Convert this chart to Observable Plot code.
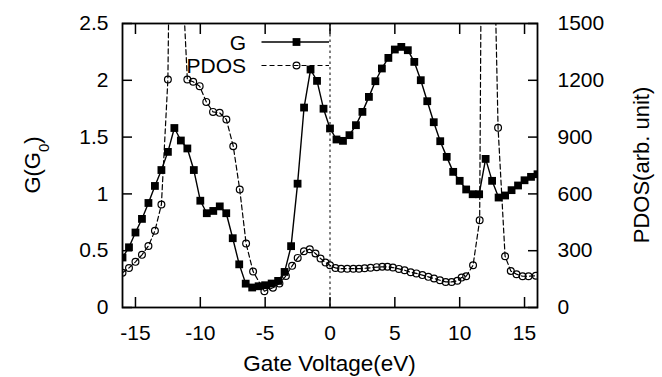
<!DOCTYPE html>
<html><head><meta charset="utf-8">
<script src="https://cdn.jsdelivr.net/npm/d3@7"></script>
<script src="https://cdn.jsdelivr.net/npm/@observablehq/plot@0.6"></script>
<style>
html,body{margin:0;padding:0;background:#fff;}
#chart{width:662px;height:377px;overflow:hidden;}
</style>
</head><body><div id="chart"></div>
<script>
// ---- data ----
const gVoltage = [-16,-15.5,-15,-14.5,-14,-13.5,-13,-12.5,-12,-11.5,-11,-10.5,-10,-9.5,-9,-8.5,-8,-7.5,-7,-6.5,-6,-5.5,-5,-4.5,-4,-3.5,-3,-2.5,-2,-1.5,-1,-0.5,0,0.5,1,1.5,2,2.5,3,3.5,4,4.5,5,5.5,6,6.5,7,7.5,8,8.5,9,9.5,10,10.5,11,11.5,12,12.5,13,13.5,14,14.5,15,15.5,16];
const gValues = [0.44,0.53,0.66,0.78,0.92,1.07,1.21,1.37,1.58,1.47,1.40,1.21,0.94,0.83,0.85,0.89,0.83,0.61,0.38,0.21,0.176,0.187,0.196,0.211,0.234,0.313,0.54,1.09,1.76,2.095,1.995,1.75,1.576,1.479,1.467,1.517,1.605,1.722,1.854,1.992,2.104,2.197,2.271,2.294,2.265,2.162,2.001,1.816,1.631,1.464,1.326,1.194,1.115,1.039,0.997,0.997,1.308,1.115,0.968,0.986,1.033,1.074,1.12,1.15,1.173];
const pdosVoltage = [-16,-15.5,-15,-14.5,-14,-13.5,-13,-12.5,-12,-11.5,-11,-10.55,-10.05,-9.54,-9.02,-8.51,-7.99,-7.46,-6.96,-6.47,-5.93,-5.06,-4.4,-3.9,-3.4,-2.92,-2.49,-2.01,-1.56,-1.12,-0.73,-0.35,0,0.42,0.86,1.33,1.8,2.23,2.67,3.13,3.6,4.03,4.43,4.85,5.31,5.75,6.22,6.66,7.12,7.58,8.02,8.48,8.92,9.38,9.82,10.15,10.5,11.03,11.54,12.0,12.5,12.96,13.5,13.94,14.38,14.85,15.31,15.87];
const pdosValues = [183,209,241,278,325,405,544,1204,4160,1910,1204,1192,1169,1086,1033,1028,993,852,623,338,190,86,104,127,167,220,262,297,308,285,259,238,223,209,205,205,205,205,207,210,213,215,215,211,204,197,186,180,171,162,153,144,135,135,141,158,165,223,461,5650,2440,949,271,193,176,165,165,168];
const xTicks = [-15,-10,-5,0,5,10,15];
const yTicksLeft = [0,0.5,1,1.5,2,2.5];
const yTickLabelsLeft = ["0","0.5","1","1.5","2","2.5"];
const yTicksRight = [0,300,600,900,1200,1500];
const yTickLabelsRight = ["0","300","600","900","1200","1500"];
const pdosPerG = 600; // right axis 1500 <-> left axis 2.5
const seriesNames = ["G","PDOS"];
const xTitle = "Gate Voltage(eV)";
const rightTitle = "PDOS(arb. unit)";

// ---- tables ----
const gData = gVoltage.map((v,i)=>({v, g:gValues[i]}));
const pdosData = pdosVoltage.map((v,i)=>({v, g:pdosValues[i]/pdosPerG}));

const W=662,H=377,mL=122,mR=125,mT=23,mB=70;
const font = "'Liberation Sans', Arial, Helvetica, sans-serif";

const chart = Plot.plot({
  width:W, height:H, marginLeft:mL, marginRight:mR, marginTop:mT, marginBottom:mB,
  style:{fontFamily:font, fontSize:"21px", color:"#000", background:"#fff", overflow:"visible"},
  x:{domain:[-16,16]},
  y:{domain:[0,2.5]},
  marks:[
    Plot.ruleX([0], {stroke:"#000", strokeWidth:1, strokeDasharray:"2.5,3"}),
    Plot.line(pdosData, {x:"v", y:"g", stroke:"#000", strokeWidth:1.2, strokeDasharray:"5,3", clip:true}),
    Plot.dot(pdosData, {x:"v", y:"g", r:3.4, stroke:"#000", strokeWidth:1.2, fill:"none", clip:true}),
    Plot.line(gData, {x:"v", y:"g", stroke:"#000", strokeWidth:1.4, clip:true}),
    Plot.dot(gData, {x:"v", y:"g", symbol:"square", r:4.4, fill:"#000", stroke:"none", clip:true}),
    Plot.axisX({anchor:"bottom", ticks:xTicks, tickSize:-10, tickPadding:28, label:null, tickFormat:d=>String(d), strokeWidth:1.5}),
    Plot.axisX({anchor:"top", ticks:xTicks, tickSize:-10, label:null, tickFormat:()=>"", strokeWidth:1.5}),
    Plot.axisY({anchor:"left", ticks:yTicksLeft, tickSize:-10, tickPadding:24, label:null, tickFormat:d=>yTickLabelsLeft[yTicksLeft.indexOf(d)], strokeWidth:1.5}),
    Plot.axisY({anchor:"right", ticks:yTicksRight.map(t=>t/pdosPerG), tickSize:-10, tickPadding:30, label:null, tickFormat:d=>yTickLabelsRight[yTicksRight.indexOf(Math.round(d*pdosPerG))], strokeWidth:1.5}),
    Plot.frame({stroke:"#000", strokeWidth:1.8})
  ]
});
document.getElementById("chart").appendChild(chart);

// ---- titles and key ----
const svg = d3.select(chart);
const fw = W-mL-mR, fh = H-mT-mB;
svg.append("text").attr("x", mL+fw/2).attr("y", H-6).attr("text-anchor","middle")
  .style("font-family",font).style("font-size","22.5px").attr("fill","#000").text(xTitle);
const yl = svg.append("text").attr("transform",`translate(40,${mT+fh/2}) rotate(-90)`).attr("text-anchor","middle")
  .style("font-family",font).style("font-size","22px").attr("fill","#000");
yl.append("tspan").text("G(G");
yl.append("tspan").attr("baseline-shift","sub").style("font-size","15px").text("0");
yl.append("tspan").text(")");
svg.append("text").attr("transform",`translate(${W-13},${mT+fh/2}) rotate(-90)`).attr("text-anchor","middle")
  .style("font-family",font).style("font-size","22px").attr("fill","#000").text(rightTitle);

const key = svg.append("g").attr("transform",`translate(${mL},${mT})`);
const keyRows = [{name:seriesNames[0], dy:19, dash:null, sym:"square"},{name:seriesNames[1], dy:42.5, dash:"5,3", sym:"circle"}];
keyRows.forEach(r=>{
  key.append("text").attr("x",124).attr("y",r.dy+7.5).attr("text-anchor","end")
    .style("font-family",font).style("font-size","21px").attr("fill","#000").text(r.name);
  key.append("line").attr("x1",139.5).attr("x2",207).attr("y1",r.dy).attr("y2",r.dy)
    .attr("stroke","#000").attr("stroke-width",r.sym==="square"?1.4:1.2).attr("stroke-dasharray",r.dash);
  if(r.sym==="square") key.append("rect").attr("x",174.5-3.9).attr("y",r.dy-3.9).attr("width",7.8).attr("height",7.8).attr("fill","#000");
  else key.append("circle").attr("cx",174.5).attr("cy",r.dy).attr("r",3.4).attr("fill","none").attr("stroke","#000").attr("stroke-width",1.2);
});
</script>
</body></html>
